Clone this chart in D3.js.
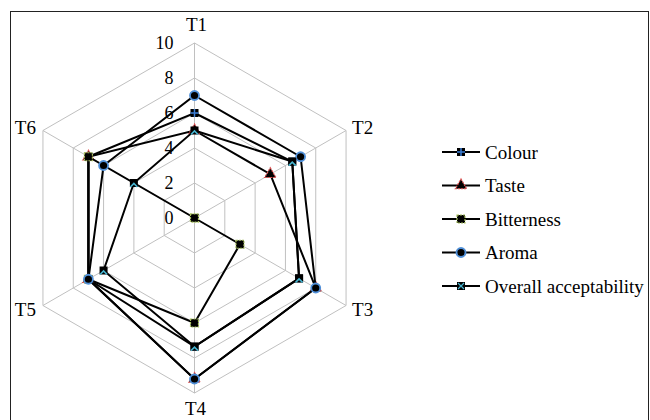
<!DOCTYPE html>
<html>
<head>
<meta charset="utf-8">
<script src="https://cdn.jsdelivr.net/npm/d3@7"></script>
<style>
  html, body { margin: 0; padding: 0; background: #fff; }
</style>
</head>
<body>
<svg id="chart" width="650" height="420"></svg>
<script>
const categories = ["T1", "T2", "T3", "T4", "T5", "T6"];
const seriesNames = ["Colour", "Taste", "Bitterness", "Aroma", "Overall acceptability"];
const colourValues = [6, 6.45, 6.9, 7.35, 7, 7];
const tasteValues = [5, 5, 8, 9.2, 7, 7];
const bitternessValues = [0, 0, 3, 6, 7, 7];
const aromaValues = [7, 7, 8, 9.2, 7, 6];
const overallValues = [5, 6.45, 6.9, 7.35, 6, 4];
const tickValues = [0, 2, 4, 6, 8, 10];

const seriesValues = [colourValues, tasteValues, bitternessValues, aromaValues, overallValues];
const markerTypes = ["plus", "triangle", "square", "circle", "xsquare"];
const FONT = "'Liberation Serif', 'Times New Roman', Times, 'DejaVu Serif', serif";

const svg = d3.select("#chart");
const cx = 194.5, cy = 218;
const r = d3.scaleLinear().domain([0, 10]).range([0, 175]);
const angle = d3.scaleLinear().domain([0, categories.length]).range([0, 2 * Math.PI]);
const px = (i, v) => cx + r(v) * Math.sin(angle(i));
const py = (i, v) => cy - r(v) * Math.cos(angle(i));

// outer border
svg.append("rect").attr("x", 10.5).attr("y", 11.5).attr("width", 638).attr("height", 420)
  .attr("fill", "none").attr("stroke", "#222").attr("stroke-width", 1);

const g = svg.append("g");
// grid hexagons
const gridLine = d3.lineRadial().angle((d, i) => angle(i)).radius(d => r(d)).curve(d3.curveLinearClosed);
tickValues.filter(t => t > 0).forEach(t => {
  g.append("path").attr("transform", `translate(${cx},${cy})`)
    .attr("d", gridLine(categories.map(() => t)))
    .attr("fill", "none").attr("stroke", "#c0c0c0").attr("stroke-width", 1);
});
// spokes
categories.forEach((c, i) => {
  g.append("line").attr("x1", cx).attr("y1", cy)
    .attr("x2", px(i, 10)).attr("y2", py(i, 10))
    .attr("stroke", "#c0c0c0").attr("stroke-width", 1);
});
// tick labels
tickValues.forEach(t => {
  g.append("text").attr("x", cx - 21).attr("y", cy - r(t)).attr("dy", "0.35em")
    .attr("text-anchor", "end").attr("font-size", 18).attr("font-family", FONT).text(t);
});
// category labels
const labelPos = [
  {dx: 2, dy: -19, anchor: "middle"},
  {dx: 6, dy: -3, anchor: "start"},
  {dx: 6, dy: 4, anchor: "start"},
  {dx: 1, dy: 15, anchor: "middle"},
  {dx: -7, dy: 4, anchor: "end"},
  {dx: -7, dy: -3, anchor: "end"}
];
categories.forEach((c, i) => {
  const p = labelPos[i];
  g.append("text").attr("x", px(i, 10) + p.dx).attr("y", py(i, 10) + p.dy)
    .attr("dy", "0.35em").attr("text-anchor", p.anchor).attr("font-size", 19)
    .attr("font-family", FONT).text(c);
});

function drawMarker(sel, type, x, y) {
  const m = sel.append("g").attr("transform", `translate(${x},${y})`);
  if (type === "plus") {
    m.append("rect").attr("x", -4).attr("y", -4).attr("width", 8).attr("height", 8).attr("fill", "#000");
    m.append("path").attr("d", "M-4,0H4M0,-4V4").attr("stroke", "#3d7fd6").attr("stroke-width", 1.5);
  } else if (type === "triangle") {
    m.append("path").attr("d", d3.symbol(d3.symbolTriangle, 55)()).attr("fill", "#000")
      .attr("stroke", "#e05050").attr("stroke-width", 1.2).attr("stroke-dasharray", "2,1");
  } else if (type === "square") {
    m.append("rect").attr("x", -4).attr("y", -4).attr("width", 8).attr("height", 8)
      .attr("fill", "#000").attr("stroke", "#a8c060").attr("stroke-width", 1.2).attr("stroke-dasharray", "2,1");
  } else if (type === "circle") {
    m.append("circle").attr("r", 4.5).attr("fill", "#000").attr("stroke", "#4f8fd8").attr("stroke-width", 1.8);
  } else if (type === "xsquare") {
    m.append("rect").attr("x", -4).attr("y", -4).attr("width", 8).attr("height", 8).attr("fill", "#000");
    m.append("path").attr("d", "M-3.5,4L0,0.5L3.5,4").attr("fill", "none").attr("stroke", "#46b4d0").attr("stroke-width", 1.6);
  }
}
function drawLegendMarker(sel, type, x, y) {
  if (type === "xsquare") {
    const m = sel.append("g").attr("transform", `translate(${x},${y})`);
    m.append("rect").attr("x", -4).attr("y", -4).attr("width", 8).attr("height", 8).attr("fill", "#000");
    m.append("path").attr("d", "M-3,-3L3,3M-3,3L3,-3").attr("stroke", "#46b4d0").attr("stroke-width", 1.2);
  } else {
    drawMarker(sel, type, x, y);
  }
}

const seriesLine = d3.lineRadial().angle((d, i) => angle(i)).radius(d => r(d)).curve(d3.curveLinearClosed);
seriesValues.forEach((vals, s) => {
  const sg = g.append("g");
  sg.append("path").attr("transform", `translate(${cx},${cy})`)
    .attr("d", seriesLine(vals)).attr("fill", "none").attr("stroke", "#000").attr("stroke-width", 2);
  vals.forEach((v, i) => drawMarker(sg, markerTypes[s], px(i, v), py(i, v)));
});

// legend
const legend = svg.append("g");
const ly = d3.scalePoint().domain(seriesNames).range([152, 286]);
seriesNames.forEach((name, s) => {
  const y = ly(name);
  legend.append("line").attr("x1", 442).attr("x2", 480).attr("y1", y).attr("y2", y)
    .attr("stroke", "#000").attr("stroke-width", 2);
  drawLegendMarker(legend, markerTypes[s], 461, y);
  legend.append("text").attr("x", 485).attr("y", y).attr("dy", "0.35em")
    .attr("font-size", 19).attr("font-family", FONT).text(name);
});
</script>
</body>
</html>
